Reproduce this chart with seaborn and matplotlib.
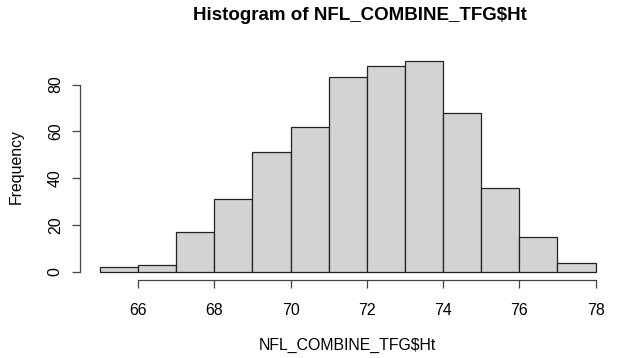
import numpy as np
import pandas as pd
import matplotlib
matplotlib.use("Agg")
import matplotlib.pyplot as plt
import seaborn as sns

# Height histogram: 1-inch bins from 65 to 78
bin_edges = [65, 66, 67, 68, 69, 70, 71, 72, 73, 74, 75, 76, 77, 78]
counts = [2, 3, 17, 31, 51, 62, 83, 88, 90, 68, 36, 15, 4]
x_ticks = [66, 68, 70, 72, 74, 76, 78]
y_ticks = [0, 20, 40, 60, 80]

sns.set_theme(style="white")
plt.rcParams["font.family"] = ["Liberation Sans", "DejaVu Sans"]
plt.rcParams["text.color"] = "black"
plt.rcParams["axes.labelcolor"] = "black"
plt.rcParams["xtick.color"] = "black"
plt.rcParams["ytick.color"] = "black"

mids = [(a + b) / 2 for a, b in zip(bin_edges[:-1], bin_edges[1:])]
df = pd.DataFrame({"Ht": mids, "n": counts})

fig = plt.figure(figsize=(6.26, 3.58), dpi=100)
ax = fig.add_axes([0.128, 0.2165, 0.855, 0.6365])

sns.histplot(data=df, x="Ht", weights="n", bins=bin_edges, ax=ax,
             color="#D3D3D3", alpha=1.0, edgecolor="#222222", linewidth=0.9)

ax.set_xlim(64.48, 78.52)
ax.set_ylim(-3.6, 93.6)
ax.set_xticks(x_ticks)
ax.set_yticks(y_ticks)
ax.set_xticklabels([str(v) for v in x_ticks], fontsize=11.4)
ax.set_yticklabels([str(v) for v in y_ticks], fontsize=11.4, rotation=90, va="center")

for s in ["top", "right"]:
    ax.spines[s].set_visible(False)
ax.spines["bottom"].set_bounds(66, 78)
ax.spines["left"].set_bounds(0, 80)
for s in ["bottom", "left"]:
    ax.spines[s].set_color("#444444")
    ax.spines[s].set_linewidth(0.9)
ax.tick_params(axis="both", direction="out", length=5.5, width=0.9,
               color="#444444", bottom=True, left=True)
ax.tick_params(axis="x", pad=11)
ax.tick_params(axis="y", pad=7)

ax.set_xlabel("NFL_COMBINE_TFG$Ht", fontsize=11.4, labelpad=14)
ax.set_ylabel("Frequency", fontsize=11.4, labelpad=17)
fig.text(360 / 626, 1 - 16 / 358, "Histogram of NFL_COMBINE_TFG$Ht", ha="center", va="center",
         fontsize=13.5, fontweight="bold")

fig.savefig("out.png", dpi=100, facecolor="white")
